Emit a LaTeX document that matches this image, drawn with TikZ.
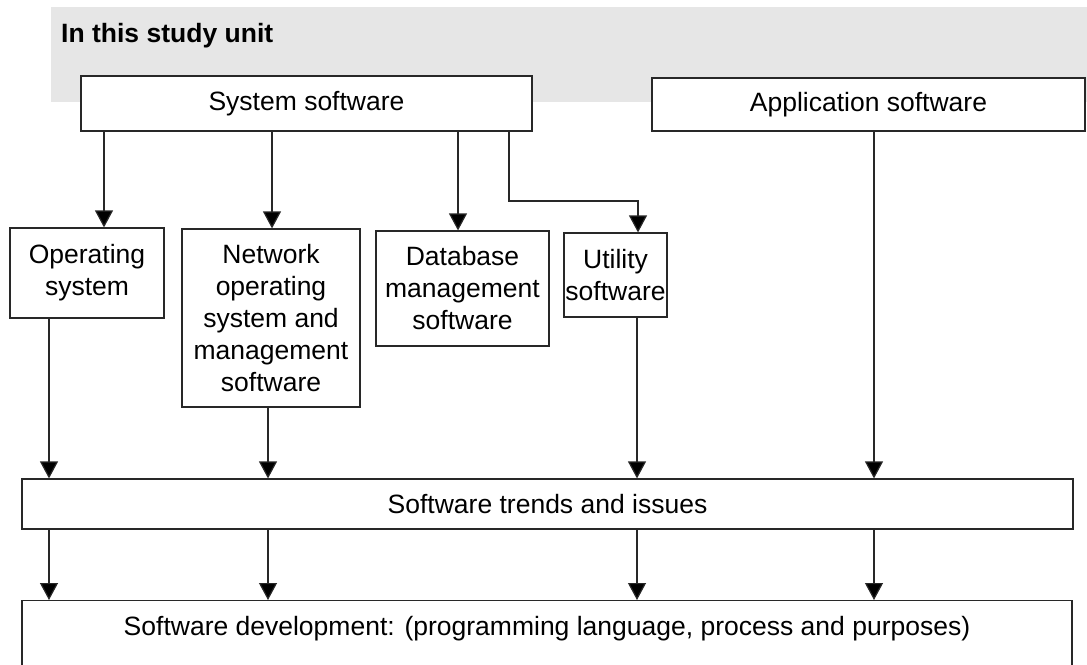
\documentclass[tikz,border=0pt]{standalone}
\usepackage{fontspec}
\setmainfont{Liberation Sans}
\usetikzlibrary{arrows.meta}
\definecolor{bannergray}{RGB}{230,230,230}
\definecolor{linegray}{RGB}{40,40,40}
\tikzset{
  box/.style={draw=linegray, line width=1.2pt, fill=white, inner sep=0pt, align=center,
    font=\fontsize{26.5}{32}\selectfont},
  arr/.style={draw=linegray, line width=1.2pt, -{Triangle[width=18pt,length=17pt,fill=black]}},
}
\begin{document}
\begin{tikzpicture}[x=1pt,y=-1pt]
\useasboundingbox (0,0) rectangle (1087,664);
\fill[bannergray] (51,7) rectangle (1087,102);
\node[anchor=base west, inner sep=0pt, font=\fontsize{26.5}{32}\selectfont\bfseries] (title) at (61,42) {In this study unit};

\node[box, minimum width=451pt, minimum height=55pt] (sys) at (306.5,103.5) {System software};
\node[box, minimum width=433pt, minimum height=53pt] (app) at (868.5,104.5) {Application software};

\node[box, minimum width=154pt, minimum height=90pt] (os) at (87,273) {Operating\\system};
\node[box, minimum width=178pt, minimum height=178pt] (nos) at (271,318) {Network\\operating\\system and\\management\\software};
\node[box, minimum width=173pt, minimum height=115pt] (db) at (462.5,288.5) {Database\\management\\software};
\node[box, minimum width=103pt, minimum height=84pt] (util) at (615.5,275) {Utility\\software};

\node[box, minimum width=1051pt, minimum height=50pt] (trends) at (547.5,504) {Software trends and issues};
\node[box, anchor=north, minimum width=1050pt, text height=35pt, text depth=90pt] (dev) at (547,600) {Software development: (programming language, process and purposes)};

% from system software
\draw[arr] (104,0 |- sys.south) -- (104,0 |- os.north);
\draw[arr] (272,0 |- sys.south) -- (272,0 |- nos.north);
\draw[arr] (458,0 |- sys.south) -- (458,0 |- db.north);
\draw[arr] (509,0 |- sys.south) -- (509,201) -- (638,201) -- (638,0 |- util.north);

% into trends
\draw[arr] (49,0 |- os.south) -- (49,0 |- trends.north);
\draw[arr] (268,0 |- nos.south) -- (268,0 |- trends.north);
\draw[arr] (637,0 |- util.south) -- (637,0 |- trends.north);
\draw[arr] (874,0 |- app.south) -- (874,0 |- trends.north);

% into development
\draw[arr] (49,0 |- trends.south) -- (49,0 |- dev.north);
\draw[arr] (268,0 |- trends.south) -- (268,0 |- dev.north);
\draw[arr] (637,0 |- trends.south) -- (637,0 |- dev.north);
\draw[arr] (874,0 |- trends.south) -- (874,0 |- dev.north);
\end{tikzpicture}
\end{document}
